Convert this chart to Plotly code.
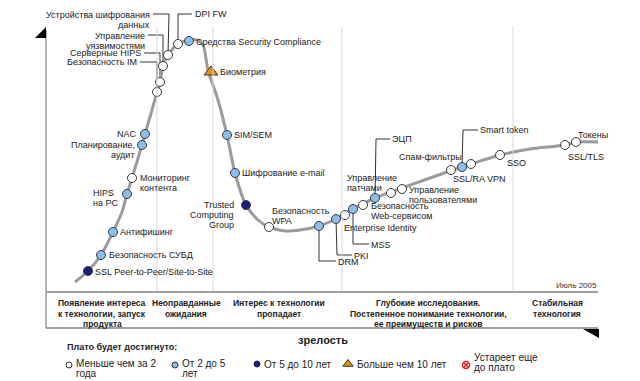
import plotly.graph_objects as go

# ---------------- data ----------------
# hype-cycle curve (maturity, expectation position; y grows downward on the page)
curve_x = [75, 88, 101, 113, 122, 127, 132, 142, 145, 152, 157, 160, 163, 168, 178, 189, 197, 203,
           208, 218, 227, 235, 246, 258, 269, 285, 300, 319, 336, 353, 375, 402, 430, 462, 500, 530,
           565, 576, 598]
curve_y = [282, 271, 255, 232, 212, 194, 178, 145, 134, 110, 92, 82, 66, 55, 44, 40, 40, 45,
           70, 100, 135, 173, 205, 220, 227, 231, 230, 226, 219, 209, 198, 188, 178, 167, 155, 149,
           145, 142, 142]

tech_names = ["SSL Peer-to-Peer/Site-to-Site", "Безопасность СУБД", "Антифишинг", "HIPS на PC",
              "Мониторинг контента", "Планирование, аудит", "NAC", "Безопасность IM",
              "Серверные HIPS", "Управление уязвимостями", "Устройства шифрования данных", "DPI FW",
              "Средства Security Compliance", "Биометрия", "SIM/SEM", "Шифрование e-mail",
              "Trusted Computing Group", "Безопасность WPA", "DRM", "PKI", "Enterprise Identity",
              "MSS", "Безопасность Web-сервисом", "ЭЦП", "Управление патчами",
              "Управление пользователями", "Спам-фильтры", "Smart token", "SSL/RA VPN", "SSO",
              "SSL/TLS", "Токены"]
tech_x = [88, 101, 113, 127, 132, 142, 145, 157, 160, 163, 168, 178, 189, 211, 227, 235, 246, 269,
          319, 336, 345, 353, 363, 375, 391, 402, 451, 462, 471, 500, 565, 576]
tech_y = [271, 255, 232, 194, 178, 145, 134, 92, 82, 66, 55, 44, 41, 72, 135, 173, 205, 227,
          226, 219, 215, 209, 205, 198, 193, 189, 170, 167, 164, 155, 145, 142]
# plateau category: 0 = <2 years, 1 = 2-5 years, 2 = 5-10 years, 3 = >10 years
tech_cat = [2, 1, 1, 1, 0, 1, 1, 0, 0, 0, 0, 0, 1, 3, 1, 1, 2, 0, 1, 1, 0, 1, 0, 1, 0, 0, 0, 1, 0, 0, 0, 0]

phase_labels = [["Появление интереса", "к технологии, запуск", "продукта"],
                ["Неоправданные", "ожидания"],
                ["Интерес к технологии", "пропадает"],
                ["Глубокие исследования.", "Постепенное понимание технологии,", "ее преимуществ и рисков"],
                ["Стабильная", "технология"]]
category_labels = [["Меньше чем за 2", "года"], ["От 2 до 5", "лет"], ["От 5 до 10 лет"],
                   ["Больше чем 10 лет"], ["Устареет еще", "до плато"]]

# ---------------- styles / layout ----------------
FONT = "Liberation Sans, Arial, sans-serif"
TXT = "#1a1a1a"
cat_style = [
    dict(symbol="circle", color="white", size=9),
    dict(symbol="circle", color="#88bff0", size=9),
    dict(symbol="circle", color="#1a1f7d", size=9),
    dict(symbol="triangle-up", color="#f08c00", size=12),
]

# label placement: name -> (x, y of first line, xanchor)
label_pos = {
    "SSL Peer-to-Peer/Site-to-Site": (94, 272, "left"),
    "Безопасность СУБД": (108, 255, "left"),
    "Антифишинг": (119, 232, "left"),
    "HIPS на PC": (92, 193, "left"),
    "Мониторинг контента": (139, 178, "left"),
    "Планирование, аудит": (136, 145, "right"),
    "NAC": (138, 134, "right"),
    "Безопасность IM": (138, 62, "right"),
    "Серверные HIPS": (142, 53, "right"),
    "Управление уязвимостями": (146, 36, "right"),
    "Устройства шифрования данных": (151, 15, "right"),
    "DPI FW": (194, 14, "left"),
    "Средства Security Compliance": (195, 42, "left"),
    "Биометрия": (219, 72, "left"),
    "SIM/SEM": (233, 135, "left"),
    "Шифрование e-mail": (241, 173, "left"),
    "Trusted Computing Group": (235, 205, "right"),
    "Безопасность WPA": (271, 211, "left"),
    "DRM": (337, 262, "left"),
    "PKI": (353, 256, "left"),
    "Enterprise Identity": (343, 228, "left"),
    "MSS": (370, 245, "left"),
    "Безопасность Web-сервисом": (370, 206, "left"),
    "ЭЦП": (391, 139, "left"),
    "Управление патчами": (346, 178, "left"),
    "Управление пользователями": (408, 190, "left"),
    "Спам-фильтры": (398, 157, "left"),
    "Smart token": (479, 130, "left"),
    "SSL/RA VPN": (452, 179, "left"),
    "SSO": (506, 163, "left"),
    "SSL/TLS": (567, 157, "left"),
    "Токены": (577, 135, "left"),
}
line_break = {
    "HIPS на PC": ["HIPS", "на PC"],
    "Мониторинг контента": ["Мониторинг", "контента"],
    "Планирование, аудит": ["Планирование,", "аудит"],
    "Управление уязвимостями": ["Управление", "уязвимостями"],
    "Устройства шифрования данных": ["Устройства шифрования", "данных"],
    "Trusted Computing Group": ["Trusted", "Computing", "Group"],
    "Безопасность WPA": ["Безопасность", "WPA"],
    "Безопасность Web-сервисом": ["Безопасность", "Web-сервисом"],
    "Управление патчами": ["Управление", "патчами"],
    "Управление пользователями": ["Управление", "пользователями"],
}
# leader lines: name -> bend points (elbow then label end), starting from the marker
leaders = {
    "Безопасность IM": [(157, 62), (140, 62)],
    "Серверные HIPS": [(160, 53), (144, 53)],
    "Управление уязвимостями": [(163, 35), (148, 35)],
    "Устройства шифрования данных": [(169, 14), (153, 14)],
    "DPI FW": [(178, 14), (192, 14)],
    "DRM": [(319, 261), (336, 261)],
    "PKI": [(337, 255), (352, 255)],
    "MSS": [(353, 244), (369, 244)],
    "ЭЦП": [(376, 139), (390, 139)],
    "Smart token": [(463, 130), (478, 130)],
}

fig = go.Figure()
annotations = []


def add_text(lines, x, y0, xanchor, size, color=TXT, bold=False, step=10.2):
    for k, ln in enumerate(lines):
        t = "<b>" + ln + "</b>" if bold else ln
        annotations.append(dict(x=x, y=y0 + k * step, text=t, xanchor=xanchor, yanchor="middle",
                                showarrow=False, borderpad=0,
                                font=dict(family=FONT, size=size, color=color)))


# phase dividers
for xd in [157, 213, 342, 513]:
    fig.add_shape(type="line", x0=xd, x1=xd, y0=27, y1=292, line=dict(color="#d9d9d9", width=1))

# axes frame
fig.add_shape(type="line", x0=46, x1=46, y0=30, y1=328, line=dict(color="#808080", width=1.2))
fig.add_shape(type="line", x0=46, x1=598, y0=292, y1=292, line=dict(color="#a0a0a0", width=2))
fig.add_shape(type="line", x0=46, x1=598, y0=328, y1=328, line=dict(color="#a0a0a0", width=2))
fig.add_shape(type="path", path="M 46 27 L 35 38 L 46 38 Z", fillcolor="black", line=dict(width=0))
fig.add_shape(type="path", path="M 583 329 L 599 329 L 599 338 Z", fillcolor="black", line=dict(width=0))

# leader lines
for name, pts in leaders.items():
    i = tech_names.index(name)
    xs = [tech_x[i]] + [p[0] for p in pts]
    ys = [tech_y[i]] + [p[1] for p in pts]
    fig.add_trace(go.Scatter(x=xs, y=ys, mode="lines", line=dict(color="#333333", width=1),
                             hoverinfo="skip", showlegend=False))

# curve
fig.add_trace(go.Scatter(x=curve_x, y=curve_y, mode="lines",
                         line=dict(color="#9b9b9b", width=3, shape="spline", smoothing=0.8),
                         hoverinfo="skip", showlegend=False))

# technology markers by category
for c, st in enumerate(cat_style):
    xs = [x for x, k in zip(tech_x, tech_cat) if k == c]
    ys = [y for y, k in zip(tech_y, tech_cat) if k == c]
    fig.add_trace(go.Scatter(x=xs, y=ys, mode="markers",
                             marker=dict(symbol=st["symbol"], color=st["color"], size=st["size"],
                                         line=dict(color="#3a3a3a", width=1)),
                             hoverinfo="skip", showlegend=False))

for name in tech_names:
    lx, ly, xa = label_pos[name]
    add_text(line_break.get(name, [name]), lx, ly, xa, 9)

phase_x = [102, 186, 279, 428, 557]
for lines, px in zip(phase_labels, phase_x):
    add_text(lines, px, 303, "center", 8.5, color="#222", bold=True, step=10.5)

add_text(["Июль 2005"], 598, 285, "right", 8, color="#333")
add_text(["зрелость"], 323, 340, "center", 11, color="#222", bold=True)
add_text(["Плато будет достигнуто:"], 66, 347, "left", 9, color="#222", bold=True)

# legend (manual)
leg_sym_x = [69, 175, 257, 348, 466]
leg_sym_y = [365, 365, 364, 364, 365]
leg_txt_x = [75, 181, 263, 356, 473]
leg_txt_y = [363, 363, 364, 364, 357]
leg_markers = [
    dict(symbol="circle", color="white", size=6, line=dict(color="#333", width=1)),
    dict(symbol="circle", color="#88bff0", size=6, line=dict(color="#333", width=1)),
    dict(symbol="circle", color="#1a1f7d", size=6, line=dict(color="#1a1f7d", width=1)),
    dict(symbol="triangle-up", color="#f08c00", size=9, line=dict(color="#333", width=1)),
    dict(symbol="circle-x", color="white", size=7, line=dict(color="#e3222b", width=1.5)),
]
for i, lab in enumerate(category_labels):
    fig.add_trace(go.Scatter(x=[leg_sym_x[i]], y=[leg_sym_y[i]], mode="markers", marker=leg_markers[i],
                             hoverinfo="skip", showlegend=False))
    add_text(lab, leg_txt_x[i], leg_txt_y[i], "left", 10, color="#222", step=10.5)

fig.update_layout(
    width=640, height=381, margin=dict(l=0, r=0, t=0, b=0),
    paper_bgcolor="white", plot_bgcolor="white",
    xaxis=dict(range=[0, 640], visible=False, fixedrange=True),
    yaxis=dict(range=[381, 0], visible=False, fixedrange=True),
    annotations=annotations, hovermode=False, showlegend=False,
)
fig.write_html("out.html", config={"displayModeBar": False},
               post_script="document.body.style.margin='0';document.body.style.overflow='hidden';")
